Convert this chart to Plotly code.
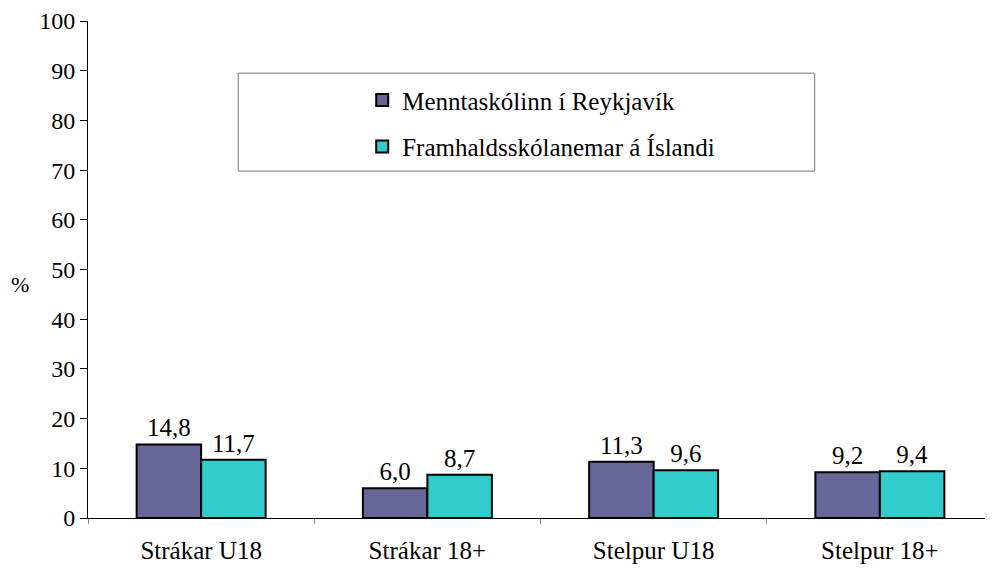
import plotly.graph_objects as go

categories = ['Strákar U18', 'Strákar 18+', 'Stelpur U18', 'Stelpur 18+']
mr_values = [14.8, 6.0, 11.3, 9.2]
island_values = [11.7, 8.7, 9.6, 9.4]
series_names = ['Menntaskólinn í Reykjavík', 'Framhaldsskólanemar á Íslandi']

font_family = 'Liberation Serif'
fsize = 25


def fmt(v):
    return f"{v:.1f}".replace('.', ',')


fig = go.Figure()
fig.add_trace(go.Bar(
    x=categories, y=mr_values, name=series_names[0],
    marker=dict(color='#666699', line=dict(color='black', width=2)),
    text=[fmt(v) for v in mr_values], textposition='outside',
    textfont=dict(size=fsize, color='black', family=font_family), cliponaxis=False,
    legendgroup='a'
))
fig.add_trace(go.Bar(
    x=categories, y=island_values, name=series_names[1],
    marker=dict(color='#33CCCC', line=dict(color='black', width=2)),
    text=[fmt(v) for v in island_values], textposition='outside',
    textfont=dict(size=fsize, color='black', family=font_family), cliponaxis=False,
    legendgroup='b'
))

# legend frame
fig.add_shape(type='rect', xref='paper', yref='paper',
              x0=0.166, x1=0.803, y0=0.698, y1=0.895,
              line=dict(color='#777777', width=1), fillcolor='rgba(0,0,0,0)')

fig.add_annotation(text='%', xref='paper', yref='paper', x=-0.075, y=0.469,
                   showarrow=False, font=dict(size=22, color='black', family=font_family),
                   xanchor='center', yanchor='middle')

# page body has an 8px margin, so the figure is shrunk by that
fig.update_layout(
    width=985, height=561,
    margin=dict(l=80, r=0, t=13, b=51, autoexpand=False),
    paper_bgcolor='white', plot_bgcolor='white',
    font=dict(family=font_family, size=fsize, color='black'),
    barmode='group', bargap=0.43, bargroupgap=0,
    showlegend=True,
    legend=dict(x=0.303, y=0.887, xanchor='left', yanchor='top',
                bgcolor='rgba(0,0,0,0)', borderwidth=0,
                font=dict(size=fsize, family=font_family), tracegroupgap=11,
                itemwidth=30),
)
fig.update_yaxes(range=[0, 100], dtick=10, showline=True, linecolor='black',
                 linewidth=1, ticks='outside', ticklen=7, tickcolor='black',
                 showgrid=False, zeroline=False,
                 automargin=False, tickfont=dict(size=24, family=font_family))
fig.update_xaxes(showline=True, linecolor='black', linewidth=1,
                 ticks='outside', tickson='boundaries', ticklen=5,
                 tickcolor='#888888', showgrid=False, ticklabelstandoff=10,
                 automargin=False, tickfont=dict(size=fsize, family=font_family))

fig.write_html('out.html')
